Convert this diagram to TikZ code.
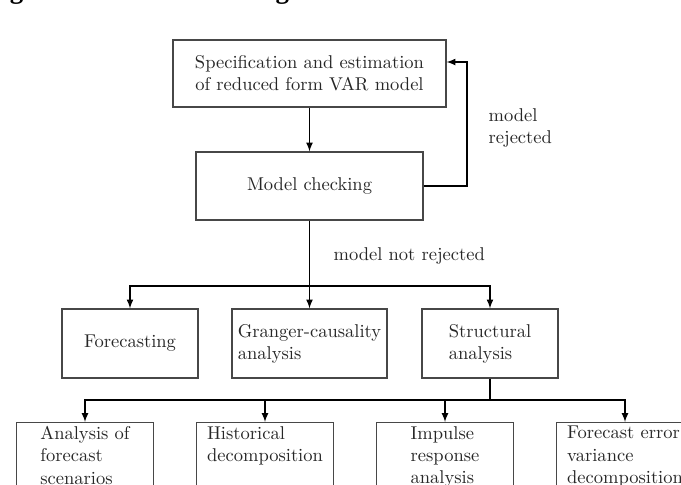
\documentclass[tikz,border=0pt]{standalone}
\usepackage{fontspec}
\newfontfamily\captfont{Liberation Serif}
\usetikzlibrary{positioning}
\begin{document}
\begin{tikzpicture}[x=0.54pt, y=-0.54pt, >=latex, line width=0.65pt]
    \tikzstyle{box}=[rectangle, draw=black!72, text=black!85, align=center, inner xsep=2pt]
    \tikzstyle{leaf}=[rectangle, draw=black!72, text=black!85, align=left, anchor=north, minimum width=74pt, inner ysep=2pt]
    \tikzstyle{lbl}=[text=black!85, align=left, inner sep=0pt]
    \useasboundingbox (0,0) rectangle (681,484);

    \node (caption) [anchor=base west, inner sep=0pt] at (-14.5,-1) {\captfont\fontsize{14.5pt}{17pt}\selectfont\bfseries Figur 9.1: VAR metodologien};

    \node (spec) [box, minimum width=147.4pt, minimum height=36.2pt] at (309.5,73.5) {Specification and estimation\\of reduced form VAR model};
    \node (check) [box, minimum width=122.6pt, minimum height=36.7pt] at (309.5,186) {Model checking};

    \node (fore) [box, minimum width=73.4pt, minimum height=37.3pt] at (130,343.5) {Forecasting};
    \node (granger) [box, align=left, minimum width=83.7pt, minimum height=37.3pt] at (309.5,343.5) {Granger-causality\\analysis};
    \node (struct) [box, align=left, minimum width=73.4pt, minimum height=37.3pt] at (490,343.5) {Structural\\analysis};

    \node (scen) [leaf] at (85,422) {Analysis of\\forecast\\scenarios};
    \node (hist) [leaf] at (265,422) {Historical\\decomposition\\ \strut};
    \node (irf) [leaf] at (445,422) {Impulse\\response\\analysis};
    \node (fevd) [leaf] at (625,422) {Forecast error\\variance\\decomposition};

    \node (rej) [lbl, anchor=north west] at (488,108) {model\\rejected};
    \node (notrej) [lbl, anchor=base west] at (333,260) {model not rejected};

    \coordinate (back) at (467,186);
    \coordinate (split) at (309.5,286);
    \coordinate (split2) at (490,400);

    \draw [->] (spec) -- (check);
    \draw [->] (check.east) -- (back) |- ([yshift=6.2pt]spec.east);

    \draw (check) -- (split);
    \draw [->] (split) -| (fore);
    \draw [->] (split) -- (granger);
    \draw [->] (split) -| (struct);

    \draw (struct) -- (split2);
    \draw [->] (split2) -| (scen);
    \draw [->] (split2) -| (hist);
    \draw [->] (split2) -| (irf);
    \draw [->] (split2) -| (fevd);
\end{tikzpicture}
\end{document}
